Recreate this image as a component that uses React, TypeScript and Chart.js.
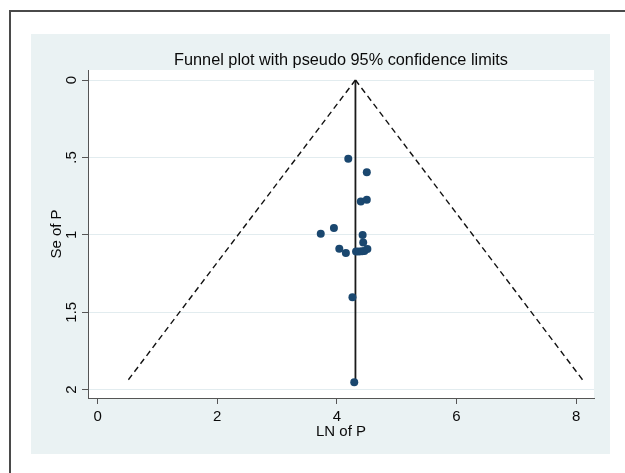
import React, { useEffect, useRef } from "react";
import { Chart, registerables } from "chart.js";

Chart.register(...registerables);

// ---- data ----
const lnP = [4.19, 4.5, 4.4, 4.5, 3.73, 3.95, 4.43, 4.44, 4.04, 4.15, 4.32, 4.37, 4.42, 4.46, 4.51, 4.26, 4.29];
const seP = [0.508, 0.596, 0.784, 0.773, 0.993, 0.956, 1.001, 1.049, 1.09, 1.118, 1.108, 1.108, 1.106, 1.104, 1.092, 1.404, 1.953];

const pooledX = [4.31, 4.31];
const funnelLeftX = [4.31, 0.48];
const funnelRightX = [4.31, 8.14];
const funnelY = [0, 1.953];

const xTicks = [0, 2, 4, 6, 8];
const xTickLabels = ["0", "2", "4", "6", "8"];
const yTicks = [0, 0.5, 1, 1.5, 2];
const yTickLabels = ["0", ".5", "1", "1.5", "2"];

const titleText = "Funnel plot with pseudo 95% confidence limits";
const xTitle = "LN of P";
const yTitle = "Se of P";

const FONT = "'Liberation Sans', Arial, sans-serif";
const TEXT = "#0a0a0a";
const BG = "rgb(234,242,243)";

const pts = (xs: number[], ys: number[]) => xs.map((x, i) => ({ x, y: ys[i] }));

const decor = {
  id: "stataDecor",
  beforeDraw(chart: any) {
    const ctx = chart.ctx;
    const a = chart.chartArea;
    ctx.save();
    ctx.fillStyle = "#ffffff";
    ctx.fillRect(0, 0, chart.width, chart.height);
    // outer frame
    ctx.fillStyle = "#4a4a4a";
    ctx.fillRect(9, 10, chart.width - 9, 2);
    ctx.fillRect(9, 10, 2, chart.height - 10);
    // graph region
    ctx.fillStyle = BG;
    ctx.fillRect(31, 34, 579, 420);
    // plot region
    ctx.fillStyle = "#ffffff";
    ctx.fillRect(a.left, a.top, a.right - a.left, a.bottom - a.top);
    ctx.restore();
  },
  afterDraw(chart: any) {
    const ctx = chart.ctx;
    const a = chart.chartArea;
    const xs = chart.scales.x;
    const ys = chart.scales.y;
    ctx.save();
    ctx.fillStyle = TEXT;
    // title
    ctx.font = `16.3px ${FONT}`;
    ctx.textAlign = "center";
    ctx.textBaseline = "alphabetic";
    ctx.fillText(titleText, (a.left + a.right) / 2, 65);
    // x tick labels
    ctx.font = `15px ${FONT}`;
    xTicks.forEach((v, i) => {
      ctx.fillText(xTickLabels[i], xs.getPixelForValue(v), a.bottom + 22.5);
    });
    // x title
    ctx.fillText(xTitle, (a.left + a.right) / 2, a.bottom + 38);
    // y tick labels (rotated)
    yTicks.forEach((v, i) => {
      ctx.save();
      ctx.translate(a.left - 11.6, ys.getPixelForValue(v));
      ctx.rotate(-Math.PI / 2);
      ctx.fillText(yTickLabels[i], 0, 0);
      ctx.restore();
    });
    // y title
    ctx.save();
    ctx.translate(a.left - 26.6, (a.top + a.bottom) / 2);
    ctx.rotate(-Math.PI / 2);
    ctx.fillText(yTitle, 0, 0);
    ctx.restore();
    ctx.restore();
  },
};

export default function App() {
  const ref = useRef<HTMLCanvasElement | null>(null);
  useEffect(() => {
    if (!ref.current) return;
    const chart = new Chart(ref.current, {
      type: "scatter",
      data: {
        datasets: [
          {
            label: "Funnel left",
            data: pts(funnelLeftX, funnelY),
            showLine: true,
            borderColor: "#111111",
            borderWidth: 1.4,
            borderDash: [6, 4],
            pointRadius: 0,
            order: 2,
          },
          {
            label: "Funnel right",
            data: pts(funnelRightX, funnelY),
            showLine: true,
            borderColor: "#111111",
            borderWidth: 1.4,
            borderDash: [6, 4],
            pointRadius: 0,
            order: 2,
          },
          {
            label: "Pooled",
            data: pts(pooledX, funnelY),
            showLine: true,
            borderColor: "#1a1a1a",
            borderWidth: 1.8,
            pointRadius: 0,
            order: 3,
          },
          {
            label: "Studies",
            data: pts(lnP, seP),
            backgroundColor: "#1a476f",
            borderWidth: 0,
            pointRadius: 4,
            order: 1,
          },
        ],
      },
      options: {
        responsive: false,
        animation: false,
        events: [],
        layout: { padding: { left: 88, top: 70, right: 31, bottom: 75 } },
        plugins: { legend: { display: false }, tooltip: { enabled: false }, title: { display: false } },
        scales: {
          x: {
            type: "linear",
            min: -0.162,
            max: 8.299,
            afterBuildTicks: (s: any) => {
              s.ticks = xTicks.map((v) => ({ value: v }));
            },
            afterFit: (s: any) => {
              s.height = 0;
            },
            ticks: { display: false },
            grid: { color: "rgba(0,0,0,0)", tickColor: "#555555", tickLength: 6, drawTicks: true },
            border: { color: "#555555", width: 1 },
          },
          y: {
            type: "linear",
            reverse: true,
            min: -0.0646,
            max: 2.054,
            afterBuildTicks: (s: any) => {
              s.ticks = yTicks.map((v) => ({ value: v }));
            },
            afterFit: (s: any) => {
              s.width = 0;
            },
            ticks: { display: false },
            grid: { color: "#e2ecef", tickColor: "#555555", tickLength: 6, drawTicks: true },
            border: { color: "#555555", width: 1 },
          },
        },
      },
      plugins: [decor],
    });
    return () => chart.destroy();
  }, []);
  return (
    <div style={{ position: "fixed", left: 0, top: 0, width: 625, height: 473 }}>
      <canvas ref={ref} width={625} height={473} style={{ display: "block" }} />
    </div>
  );
}
